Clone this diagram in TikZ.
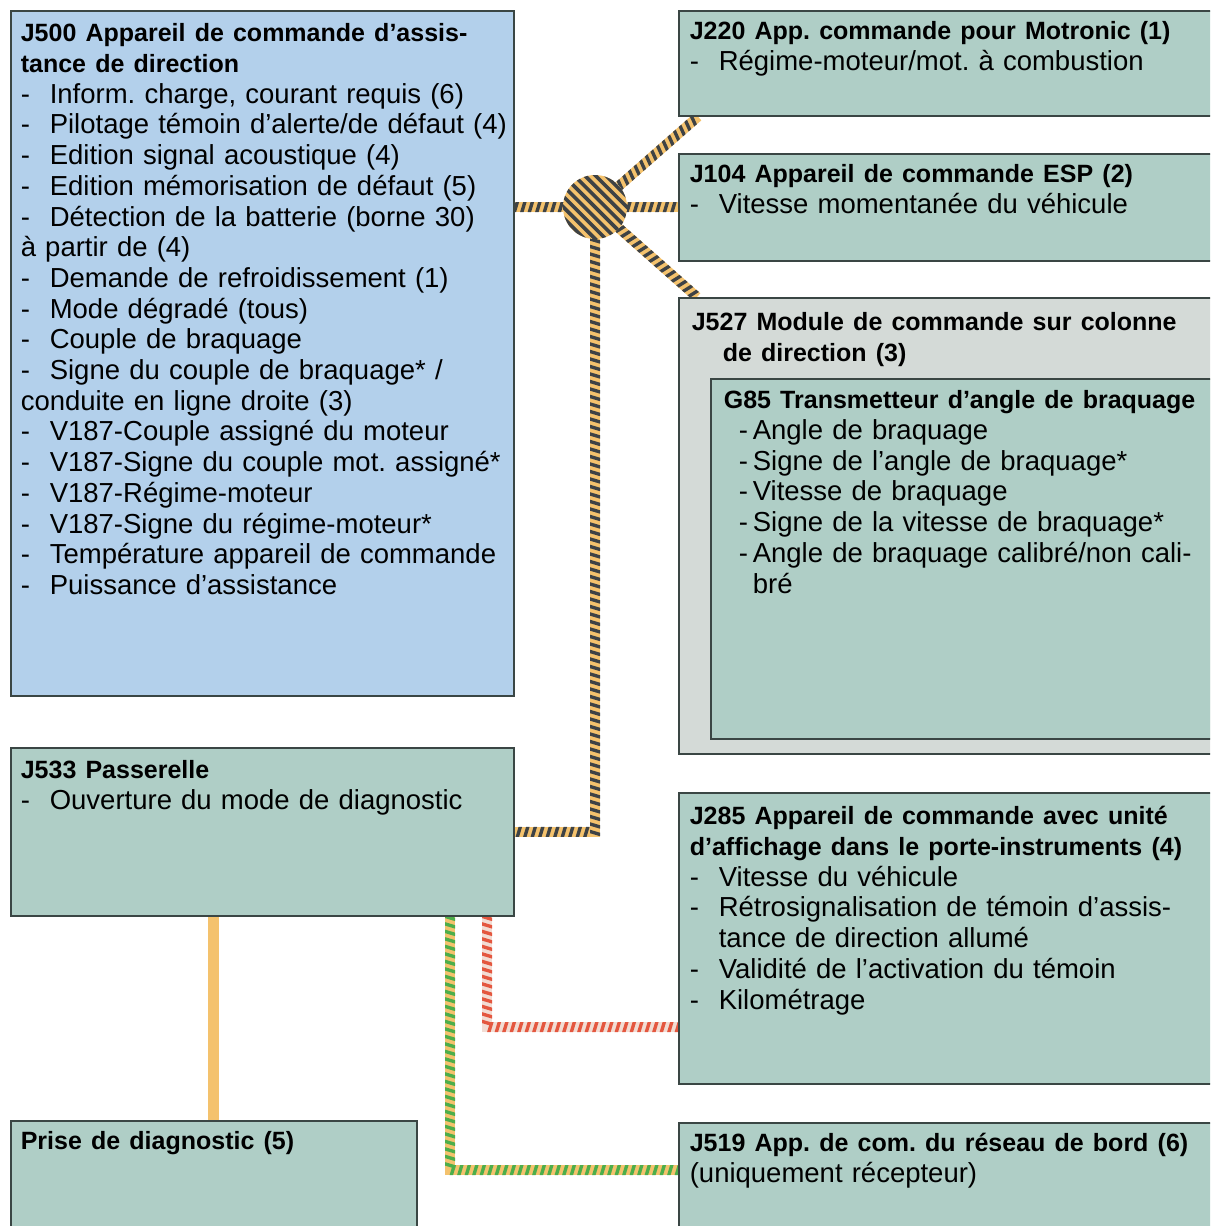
\documentclass[tikz,border=0pt]{standalone}
\usepackage{fontspec}
\setmainfont{Liberation Sans}
\usepackage{tikz}
\usetikzlibrary{calc,backgrounds,decorations.markings}
\definecolor{kb}{HTML}{B3D0EB}
\definecolor{kg}{HTML}{AFCEC6}
\definecolor{kgr}{HTML}{D4DAD7}
\definecolor{kbd}{HTML}{3A4644}
\definecolor{ky}{HTML}{F4C26D}
\definecolor{kd}{HTML}{3E4245}
\definecolor{kr}{HTML}{E4573F}
\definecolor{kp}{HTML}{F2DCD3}
\definecolor{kgn}{HTML}{4DAE4B}
\frenchspacing
\newcommand{\ttl}[1]{\mbox{\fontsize{25}{30.7}\selectfont\bfseries #1}}
\newcommand{\itm}[1]{\mbox{\makebox[29pt][l]{-}#1}}

\begin{document}
\begin{tikzpicture}[x=1pt,y=-1pt,
  box/.style={draw=kbd,line width=1.6pt,anchor=north west,inner xsep=10pt,inner ysep=0pt,align=left,text height=29pt,font=\fontsize{27.5}{30.7}\selectfont},
  hub/.style={circle,fill=ky,minimum size=64pt,inner sep=0pt,path picture={
    \foreach \k in {-7,...,7}
      \draw[kd,line width=3.6pt]([shift={({\k*5.3pt-45pt},{\k*5.3pt+45pt})}]path picture bounding box.center)--++(90pt,-90pt);}},
  twist/.style 2 args={draw=#1,line width=10pt,postaction={decorate,decoration={markings,
    mark=between positions 0 and 1 step 7.5pt with {\fill[#2](-2pt,-5pt)--(1.5pt,-5pt)--(4.5pt,5pt)--(1pt,5pt)--cycle;}}}},
  wire/.style={draw=ky,line width=11pt}]
\useasboundingbox (0,0) rectangle (1210,1226);
\clip (0,0) rectangle (1210,1226);
% left column
\node[box,fill=kb,text width=483pt,text height=31pt,text depth=654pt](j500) at (10,10){%
  \ttl{J500 Appareil de commande d’assis-}\\
  \ttl{tance de direction}\\
  \itm{Inform. charge, courant requis (6)}\\
  \itm{Pilotage témoin d’alerte/de défaut (4)}\\
  \itm{Edition signal acoustique (4)}\\
  \itm{Edition mémorisation de défaut (5)}\\
  \itm{Détection de la batterie (borne 30)}\\
  \mbox{à partir de (4)}\\
  \itm{Demande de refroidissement (1)}\\
  \itm{Mode dégradé (tous)}\\
  \itm{Couple de braquage}\\
  \itm{Signe du couple de braquage* /}\\
  \mbox{conduite en ligne droite (3)}\\
  \itm{V187-Couple assigné du moteur}\\
  \itm{V187-Signe du couple mot. assigné*}\\
  \itm{V187-Régime-moteur}\\
  \itm{V187-Signe du régime-moteur*}\\
  \itm{Température appareil de commande}\\
  \itm{Puissance d’assistance}};
\node[box,fill=kg,text width=483pt,text height=31pt,text depth=137pt](j533) at (10,747){%
  \ttl{J533 Passerelle}\\
  \itm{Ouverture du mode de diagnostic}};
\node[box,fill=kg,text width=386pt,text depth=111pt](prise) at (10,1120){%
  \ttl{Prise de diagnostic (5)}};
% right column
\node[box,fill=kg,inner xsep=11pt,text width=538pt,text depth=76pt](j220) at (678,10){%
  \ttl{J220 App. commande pour Motronic (1)}\\
  \itm{Régime-moteur/mot. à combustion}};
\node[box,fill=kg,inner xsep=11pt,text width=538pt,text depth=78pt](j104) at (678,153){%
  \ttl{J104 Appareil de commande ESP (2)}\\
  \itm{Vitesse momentanée du véhicule}};
\node[box,fill=kgr,inner xsep=13pt,text width=534pt,text height=33pt,text depth=423pt](j527) at (678,297){%
  \ttl{J527 Module de commande sur colonne}\\
  \hspace*{31pt}\ttl{de direction (3)}};
\node[box,fill=kg,inner xsep=13pt,text width=504pt,text height=30pt,text depth=330pt](g85) at (710,378){%
  \ttl{G85 Transmetteur d’angle de braquage}\\
  \hspace*{15pt}\mbox{\makebox[14pt][l]{-}Angle de braquage}\\
  \hspace*{15pt}\mbox{\makebox[14pt][l]{-}Signe de l’angle de braquage*}\\
  \hspace*{15pt}\mbox{\makebox[14pt][l]{-}Vitesse de braquage}\\
  \hspace*{15pt}\mbox{\makebox[14pt][l]{-}Signe de la vitesse de braquage*}\\
  \hspace*{15pt}\mbox{\makebox[14pt][l]{-}Angle de braquage calibré/non cali-}\\
  \hspace*{29pt}\mbox{bré}};
\node[box,fill=kg,inner xsep=11pt,text width=538pt,text height=32pt,text depth=259pt](j285) at (678,792){%
  \ttl{J285 Appareil de commande avec unité}\\
  \ttl{d’affichage dans le porte-instruments (4)}\\
  \itm{Vitesse du véhicule}\\
  \itm{Rétrosignalisation de témoin d’assis-}\\
  \hspace*{29pt}\mbox{tance de direction allumé}\\
  \itm{Validité de l’activation du témoin}\\
  \itm{Kilométrage}};
\node[box,fill=kg,inner xsep=11pt,text width=538pt,text depth=101pt](j519) at (678,1122){%
  \ttl{J519 App. de com. du réseau de bord (6)}\\
  \mbox{(uniquement récepteur)}};
\node[hub](hub) at (595,207){};
% bus lines
\begin{pgfonlayer}{background}
\fill[white](0,0) rectangle (1210,1226);
\draw[twist={ky}{kd}](j500.east |- hub)--(hub);
\draw[twist={ky}{kd}](hub)--(hub -| j104.west);
\draw[twist={ky}{kd}](hub)--([xshift=20pt]j220.south west);
\draw[twist={ky}{kd}](hub)--([xshift=19pt]j527.north west);
\draw[twist={ky}{kd}](hub)|-(j533.east);
\draw[wire]([xshift=203pt]j533.south west)--([xshift=203pt]prise.north west);
\draw[twist={kp}{kr}]([xshift=477pt]j533.south west)|-([yshift=-235pt]j285.north west);
\draw[twist={ky}{kgn}]([xshift=440pt]j533.south west)|-([yshift=-48pt]j519.north west);
\end{pgfonlayer}
\end{tikzpicture}
\end{document}
